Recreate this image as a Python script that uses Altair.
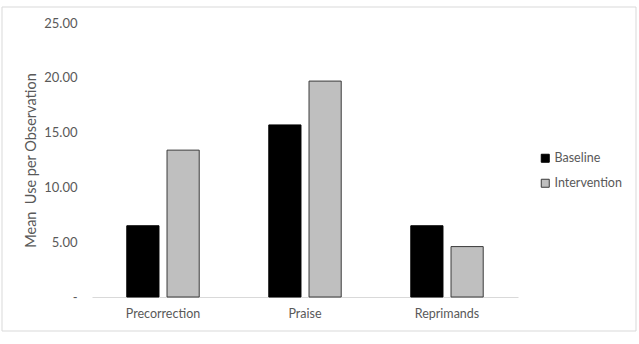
import altair as alt
import pandas as pd

categories = ["Precorrection", "Praise", "Reprimands"]
baseline = [6.5, 15.7, 6.5]
intervention = [13.4, 19.7, 4.6]
series = ["Baseline", "Intervention"]

rows = []
for c, b, i in zip(categories, baseline, intervention):
    rows.append({"cat": c, "series": "Baseline", "value": b})
    rows.append({"cat": c, "series": "Intervention", "value": i})
df = pd.DataFrame(rows)

FONT = "Lato"
GRAY = "#595959"

legend = alt.Legend(title=None, orient="none", legendX=447, legendY=129,
                    symbolType="square", symbolSize=64, symbolStrokeWidth=1,
                    labelColor=GRAY, labelFontSize=12.5, labelFont=FONT,
                    rowPadding=12, labelOffset=3)

bars = alt.Chart(df).mark_bar(strokeWidth=1).encode(
    x=alt.X("cat:N", sort=categories,
            scale=alt.Scale(paddingInner=0.49, paddingOuter=0.245),
            axis=alt.Axis(title=None, labelAngle=0, ticks=False, domainColor="#d9d9d9",
                          labelColor=GRAY, labelFontSize=12.5, labelFont=FONT, labelPadding=10)),
    xOffset=alt.XOffset("series:N", sort=series,
                        scale=alt.Scale(paddingInner=0.2, paddingOuter=0)),
    y=alt.Y("value:Q", scale=alt.Scale(domain=[0, 25]),
            axis=alt.Axis(title="Mean\u00a0 Use per Observation", values=[0, 5, 10, 15, 20, 25],
                          labelExpr="datum.value == 0 ? '-\u00a0\u00a0\u00a0\u00a0\u00a0\u00a0' : format(datum.value, '.2f')",
                          grid=False, domain=False, ticks=False, labelPadding=15,
                          labelColor=GRAY, labelFontSize=13, labelFont=FONT,
                          titleColor=GRAY, titleFontSize=14.5, titleFont=FONT,
                          titleFontWeight="normal", titlePadding=5)),
    fill=alt.Fill("series:N", sort=series,
                  scale=alt.Scale(domain=series, range=["#000000", "#bfbfbf"]),
                  legend=legend),
    stroke=alt.Stroke("series:N", sort=series,
                      scale=alt.Scale(domain=series, range=["#000000", "#3a3a3a"]),
                      legend=legend),
)

border = alt.Chart(pd.DataFrame({"a": [0]})).mark_rect(
    fill="transparent", stroke="#d9d9d9", strokeWidth=1
).encode(x=alt.value(-90), x2=alt.value(544), y=alt.value(-16), y2=alt.value(308))

chart = alt.layer(border, bars).properties(
    width=426, height=274,
    background="white",
    autosize=alt.AutoSizeParams(type="none"),
    padding={"left": 92, "top": 23, "right": 121, "bottom": 47},
).configure_view(stroke=None)

chart.save("out.html", embed_options={"renderer": "svg", "actions": False})
